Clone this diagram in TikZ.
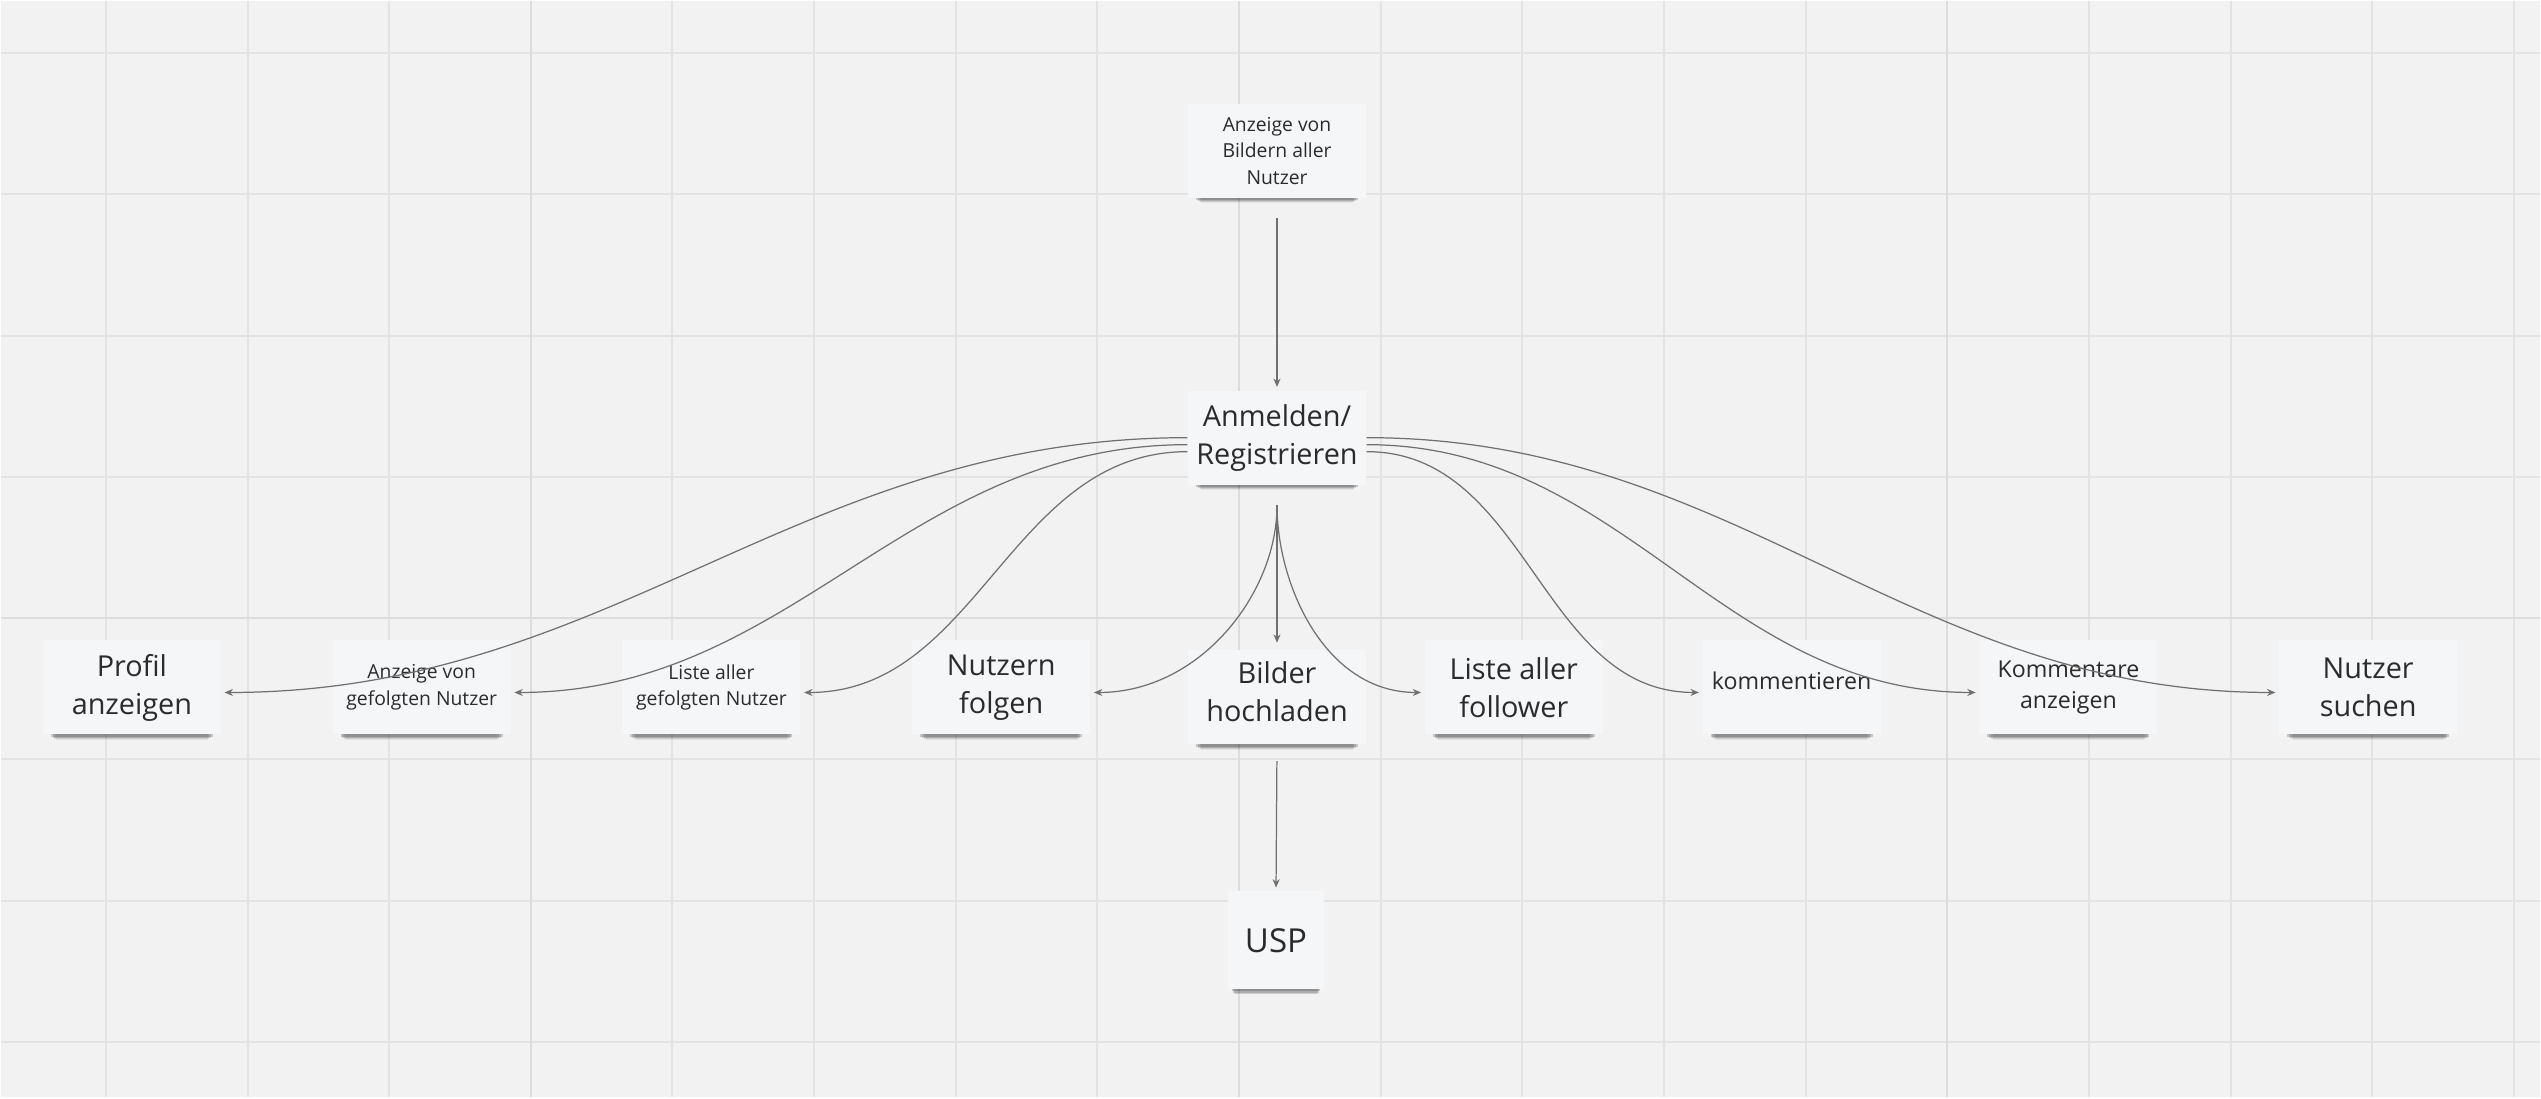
\documentclass[tikz,border=0pt]{standalone}
\usepackage{fontspec}
\setmainfont{Open Sans}
\usetikzlibrary{arrows.meta,shadows}

\definecolor{board}{HTML}{F2F2F2}
\definecolor{gridline}{HTML}{E3E3E3}
\definecolor{gridmajor}{HTML}{DCDCDC}
\definecolor{notefill}{HTML}{F5F6F8}
\definecolor{notetext}{HTML}{2B2B2B}
\definecolor{wire}{HTML}{707070}

\tikzset{
  note/.style={fill=notefill, text=notetext, align=center, inner sep=1pt,
    minimum width=1.78cm, minimum height=0.94cm,
    general shadow={shadow scale=0.85, shadow yshift=-4.2pt, fill=black, opacity=0.06},
    general shadow={shadow scale=0.87, shadow yshift=-3.5pt, fill=black, opacity=0.1},
    general shadow={shadow scale=0.89, shadow yshift=-2.8pt, fill=black, opacity=0.14},
    general shadow={shadow scale=0.91, shadow yshift=-2.0pt, fill=black, opacity=0.18}},
  txtbig/.style={font=\fontsize{8.2}{10.8}\selectfont},
  txtmid/.style={font=\fontsize{6.6}{9}\selectfont},
  txtsmall/.style={font=\fontsize{5.5}{7.6}\selectfont},
  txtusp/.style={font=\fontsize{9.4}{11}\selectfont},
  link/.style={draw=wire, line width=0.35pt, shorten >=0.03cm,
    -{Stealth[length=2.4pt,width=2pt]}},
}

\begin{document}
\begin{tikzpicture}[x=0.01cm, y=-0.01cm]
  % Board
  \fill[board] (0,0) rectangle (2541,1097);
  % Gridlines
  \foreach \k in {0,...,17} {
    \draw[gridline, line width=0.02cm] ({105+141.75*\k},0) -- ({105+141.75*\k},1097);
  }
  \foreach \k in {0,...,7} {
    \draw[gridline, line width=0.02cm] (0,{52+141.4*\k}) -- (2541,{52+141.4*\k});
  }
  \foreach \k in {3,8,13} {
    \draw[gridmajor, line width=0.02cm] ({105+141.75*\k},0) -- ({105+141.75*\k},1097);
  }
  \draw[gridmajor, line width=0.02cm] (0,617.6) -- (2541,617.6);

  % Sticky notes
  \node[note, txtsmall] (bildall) at (1277,150) {Anzeige von\\Bildern aller\\Nutzer};
  \node[note, txtbig] (anm) at (1277,437) {Anmelden/\\Registrieren};
  \node[note, txtbig] (profil) at (131,687) {Profil\\anzeigen};
  \node[note, txtsmall] (gefanz) at (421,687) {Anzeige von\\gefolgten Nutzer};
  \node[note, txtsmall] (gefliste) at (711,687) {Liste aller\\gefolgten Nutzer};
  \node[note, txtbig] (folgen) at (1001,687) {Nutzern\\folgen};
  \node[note, txtbig, text depth=0.12cm] (hoch) at (1277,697) {Bilder\\hochladen};
  \node[note, txtbig] (follower) at (1514,687) {Liste aller\\follower};
  \node[note, txtmid, text depth=0.13cm] (komm) at (1792,687) {kommentieren};
  \node[note, txtmid] (kommanz) at (2069,687) {Kommentare\\anzeigen};
  \node[note, txtbig] (suchen) at (2369,687) {Nutzer\\suchen};
  \node[note, txtusp, minimum width=0.96cm, minimum height=0.98cm] (usp) at (1276,940) {USP};

  % Straight arrows
  \draw[link, shorten <=0.19cm] (bildall) -- (anm);
  \draw[link, shorten <=0.2cm, shorten >=0.07cm] (anm.south) -- (hoch.north);
  \draw[link, shorten <=0.16cm] (hoch.south) -- (usp.north);

  % Curves to the left
  \draw[link] (anm.west) to[out=180, in=0] ([yshift=-0.05cm]profil.east);
  \draw[link] ([yshift=-0.07cm]anm.west) to[out=180, in=0] ([yshift=-0.05cm]gefanz.east);
  \draw[link] ([yshift=-0.14cm]anm.west) to[out=180, in=0] ([yshift=-0.05cm]gefliste.east);
  \draw[link, shorten <=0.2cm] (anm.south) to[out=270, in=0] ([yshift=-0.05cm]folgen.east);

  % Curves to the right
  \draw[link, shorten <=0.2cm] (anm.south) to[out=270, in=180] ([yshift=-0.05cm]follower.west);
  \draw[link] ([yshift=-0.14cm]anm.east) to[out=0, in=180] ([yshift=-0.05cm]komm.west);
  \draw[link] ([yshift=-0.07cm]anm.east) to[out=0, in=180] ([yshift=-0.05cm]kommanz.west);
  \draw[link] (anm.east) to[out=0, in=180] ([yshift=-0.05cm]suchen.west);
\end{tikzpicture}
\end{document}
